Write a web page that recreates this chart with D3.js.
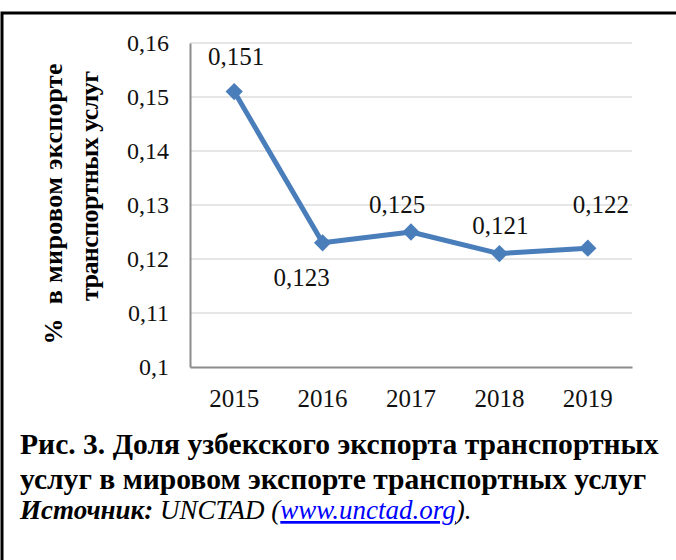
<!DOCTYPE html>
<html>
<head>
<meta charset="utf-8">
<script src="https://cdn.jsdelivr.net/npm/d3@7"></script>
<style>
  body { margin: 0; background: #fff; }
  svg text { font-family: "Liberation Serif", "Times New Roman", serif; }
</style>
</head>
<body>
<div id="my_dataviz"></div>
<script>
var years = ["2015", "2016", "2017", "2018", "2019"];
var shares = [0.151, 0.123, 0.125, 0.121, 0.122];
var shareLabels = ["0,151", "0,123", "0,125", "0,121", "0,122"];
var yTicks = [0.10, 0.11, 0.12, 0.13, 0.14, 0.15, 0.16];
// where each data label sits relative to its point (Excel manual placement)
var labelOffsets = [[2, -27], [-21, 43], [-14, -19], [1, -20], [13, -35]];

var W = 676, H = 560;
var margin = {top: 43, left: 190, right: 44, bottom: 193};
var width = W - margin.left - margin.right,
    height = H - margin.top - margin.bottom;

var root = d3.select("#my_dataviz")
    .append("svg")
        .attr("width", W)
        .attr("height", H);

// frame round the figure
root.append("path")
    .attr("d", "M2,560 L2,13 L680,13")
    .attr("fill", "none")
    .attr("stroke", "#000")
    .attr("stroke-width", 3);

var svg = root.append("g")
    .attr("transform", "translate(" + margin.left + "," + margin.top + ")");

var xScale = d3.scaleBand()
    .domain(years)
    .range([0, width]);

var yScale = d3.scaleLinear()
    .domain([0.10, 0.16])
    .range([height, 0]);

// gridlines
svg.append("g")
    .selectAll("line")
    .data(yTicks.slice(1))
    .enter()
        .append("line")
            .attr("x1", 0)
            .attr("x2", width)
            .attr("y1", function(d) { return yScale(d); })
            .attr("y2", function(d) { return yScale(d); })
            .attr("stroke", "#e6e6e6")
            .attr("stroke-width", 2);

var yAxis = svg.append("g")
    .call(d3.axisLeft(yScale)
        .tickValues(yTicks)
        .tickSize(0)
        .tickPadding(21)
        .tickFormat(function(d) { return d3.format(".2~f")(d).replace(".", ","); }));
yAxis.select(".domain").attr("stroke", "#8c8c8c").attr("stroke-width", 2);
yAxis.selectAll("text")
    .style("font-family", "Liberation Serif")
    .style("font-size", "24px")
    .attr("fill", "#111")
    .attr("dy", "0.3em");

var xAxis = svg.append("g")
    .attr("transform", "translate(0," + height + ")")
    .call(d3.axisBottom(xScale).tickSize(0).tickPadding(22));
xAxis.select(".domain").attr("stroke", "#8c8c8c").attr("stroke-width", 2);
xAxis.selectAll("text")
    .style("font-family", "Liberation Serif")
    .style("font-size", "25px")
    .attr("fill", "#111");

var cx = function(d, i) { return xScale(years[i]) + xScale.bandwidth() / 2; };

svg.append("path")
    .datum(shares)
    .attr("fill", "none")
    .attr("stroke", "#4a7ebb")
    .attr("stroke-width", 5)
    .attr("stroke-linejoin", "round")
    .attr("d", d3.line()
        .x(cx)
        .y(function(d) { return yScale(d); }));

svg.selectAll("path.marker")
    .data(shares)
    .enter()
        .append("path")
            .attr("class", "marker")
            .attr("d", d3.symbol().type(d3.symbolDiamond2).size(190))
            .attr("transform", function(d, i) {
                return "translate(" + cx(d, i) + "," + yScale(d) + ")";
            })
            .attr("fill", "#4a7ebb");

svg.selectAll("text.value")
    .data(shares)
    .enter()
        .append("text")
            .attr("class", "value")
            .attr("x", function(d, i) { return cx(d, i) + labelOffsets[i][0]; })
            .attr("y", function(d, i) { return yScale(d) + labelOffsets[i][1]; })
            .attr("text-anchor", "middle")
            .style("font-size", "25px")
            .attr("fill", "#111")
            .text(function(d, i) { return shareLabels[i]; });

// axis title, two lines
var titleLines = [
    {t: "%  в мировом экспорте", x: 62, y: 204, len: 281},
    {t: "транспортных услуг", x: 98, y: 186, len: 230}
];
root.selectAll("text.ytitle")
    .data(titleLines)
    .enter()
        .append("text")
            .attr("class", "ytitle")
            .attr("transform", function(d) { return "translate(" + d.x + "," + d.y + ") rotate(-90)"; })
            .attr("text-anchor", "middle")
            .attr("textLength", function(d) { return d.len; })
            .attr("lengthAdjust", "spacing")
            .style("white-space", "pre")
            .style("font-size", "26px")
            .style("font-weight", "bold")
            .text(function(d) { return d.t; });

// caption
var caption = ["Рис. 3. Доля узбекского экспорта транспортных",
               "услуг в мировом экспорте транспортных услуг"];
root.selectAll("text.cap")
    .data(caption)
    .enter()
        .append("text")
            .attr("class", "cap")
            .attr("x", 20)
            .attr("y", function(d, i) { return 454 + i * 35; })
            .style("font-size", "29.6px")
            .style("font-weight", "bold")
            .text(function(d) { return d; });

var src = root.append("text")
    .attr("x", 20)
    .attr("y", 519)
    .style("font-size", "27px")
    .style("font-style", "italic");
src.append("tspan").style("font-weight", "bold").text("Источник:");
src.append("tspan").text(" UNCTAD (");
src.append("tspan").attr("fill", "#0000ff").style("text-decoration", "underline").text("www.unctad.org");
src.append("tspan").text(").");
</script>
</body>
</html>
